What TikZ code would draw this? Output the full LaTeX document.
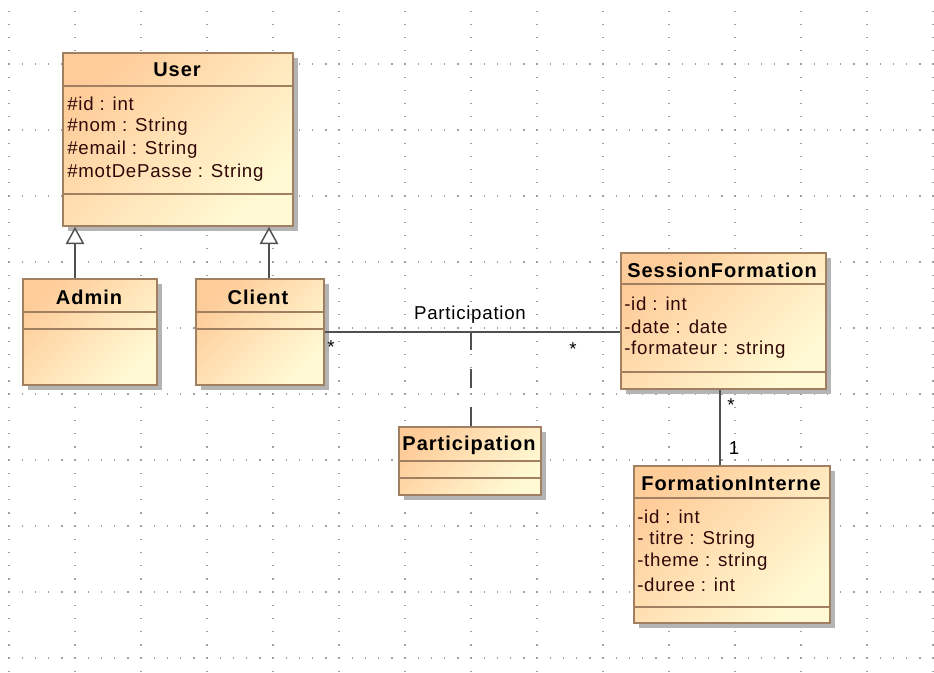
\documentclass[tikz,border=0pt]{standalone}
\usepackage{fontspec}
\setmainfont{Liberation Sans}
\usetikzlibrary{arrows.meta,shadows}
\definecolor{boxtl}{RGB}{254,204,153}
\definecolor{boxbr}{RGB}{255,250,212}
\definecolor{boxmid}{RGB}{255,228,184}
\definecolor{boxborder}{RGB}{160,128,96}
\definecolor{shadowgray}{RGB}{180,180,180}
\definecolor{linegray}{RGB}{80,80,80}
\definecolor{attrtext}{RGB}{48,8,8}
\definecolor{griddot}{RGB}{160,160,160}
\newfontfamily\regfont[LetterSpace=4]{Liberation Sans}
\newfontfamily\headfont[LetterSpace=5]{Liberation Sans Bold}
\begin{document}
\begin{tikzpicture}[x=0.75pt,y=-0.75pt,
  umlbox/.style={draw=boxborder, line width=1.4pt, inner sep=0pt, anchor=north west,
    top color=boxtl, bottom color=boxbr, middle color=boxmid, shading angle=45,
    general shadow={fill=shadowgray, shadow xshift=5*0.75pt, shadow yshift=-5*0.75pt}},
  sepline/.style={draw=boxborder, line width=1.4pt},
  headtxt/.style={font=\headfont\fontsize{15}{17}\selectfont, text=black, inner sep=0pt},
  attrtxt/.style={font=\regfont\fontsize{14}{16}\selectfont, text=attrtext, inner sep=0pt, anchor=west},
  labtxt/.style={font=\regfont\fontsize{14}{16}\selectfont, text=black, inner sep=0pt},
  conn/.style={draw=linegray, line width=1.5pt},
  gen/.style={conn, -{Triangle[length=13pt, width=14pt, fill=white, line width=1.1pt]}},
  dashconn/.style={conn, dash pattern=on 19*0.75pt off 19*0.75pt}
]
\useasboundingbox (0,0) rectangle (934,673);
\fill[white] (0,0) rectangle (934,673);
% grid dots
\foreach \gx in {9,75,...,933}{
  \foreach \j in {-4,...,46}{
    \fill[griddot] ({\gx-0.6},{64+13.2*\j-0.6}) rectangle ++(1.3,1.3);
  }
}
\foreach \gy in {64,130,...,658}{
  \foreach \i in {0,...,70}{
    \fill[griddot] ({9+13.2*\i-0.6},{\gy-0.6}) rectangle ++(1.3,1.3);
  }
}

% User
\node[umlbox, minimum width=230*0.75pt, minimum height=173*0.75pt] (user) at (62,52) {};
\draw[sepline] (62,86) -- (292,86);
\draw[sepline] (62,194) -- (292,194);
\node[headtxt] (userh) at (177,70) {User};
\node[attrtxt] (u1) at (67,104) {\#id : int};
\node[attrtxt] (u2) at (67,127) {\#nom : String};
\node[attrtxt] (u3) at (67,150) {\#email : String};
\node[attrtxt] (u4) at (67,173) {\#motDePasse : String};

% Admin
\node[umlbox, minimum width=134*0.75pt, minimum height=106*0.75pt] (admin) at (22,278) {};
\draw[sepline] (22,312) -- (156,312);
\draw[sepline] (22,329) -- (156,329);
\node[headtxt] (adminh) at (89,297) {Admin};

% Client
\node[umlbox, minimum width=128*0.75pt, minimum height=106*0.75pt] (client) at (195,278) {};
\draw[sepline] (195,312) -- (323,312);
\draw[sepline] (195,329) -- (323,329);
\node[headtxt] (clienth) at (258,297) {Client};

% SessionFormation
\node[umlbox, minimum width=205*0.75pt, minimum height=136*0.75pt] (session) at (620,252) {};
\draw[sepline] (620,284) -- (825,284);
\draw[sepline] (620,372) -- (825,372);
\node[headtxt] (sessionh) at (722,270) {SessionFormation};
\node[attrtxt] (s1) at (624,304) {-id : int};
\node[attrtxt] (s2) at (624,327) {-date : date};
\node[attrtxt] (s3) at (624,350) {-formateur : string};

% Participation class
\node[umlbox, minimum width=142*0.75pt, minimum height=68*0.75pt] (part) at (398,426) {};
\draw[sepline] (398,461) -- (540,461);
\draw[sepline] (398,478) -- (540,478);
\node[headtxt] (parth) at (469,445) {Participation};

% FormationInterne
\node[umlbox, minimum width=196*0.75pt, minimum height=157*0.75pt] (formation) at (633,465) {};
\draw[sepline] (633,498) -- (829,498);
\draw[sepline] (633,607) -- (829,607);
\node[headtxt] (formationh) at (731,483) {FormationInterne};
\node[attrtxt] (f1) at (637,517) {-id : int};
\node[attrtxt] (f2) at (637,540) {- titre : String};
\node[attrtxt] (f3) at (637,562) {-theme : string};
\node[attrtxt] (f4) at (637,585) {-duree : int};

% connectors
\coordinate (gx1) at (75,0);
\coordinate (gx2) at (269,0);
\draw[gen] (admin.north -| gx1) -- (user.south -| gx1);
\draw[gen] (client.north -| gx2) -- (user.south -| gx2);

\draw[conn] (client.east) -- (client.east -| session.west);
\coordinate (pmid) at (471,331);
\draw[dashconn] (pmid) -- (pmid |- part.north);
\node[labtxt] (assoclab) at (470,315) {Participation};
\node[labtxt] (m1) at (331,347) {*};
\node[labtxt] (m2) at (573,349) {*};

\coordinate (vx) at (720,0);
\draw[conn] (session.south -| vx) -- (formation.north -| vx);
\node[labtxt] (m3) at (731,405) {*};
\node[labtxt] (m4) at (734,448) {1};
\end{tikzpicture}
\end{document}
